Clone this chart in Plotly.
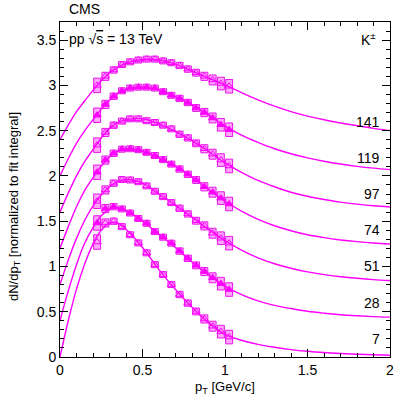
import plotly.graph_objects as go

# multiplicity classes, each shifted up by 0.4
classes = ["7", "28", "51", "74", "97", "119", "141"]
offsets = [0.0, 0.4, 0.8, 1.2, 1.6, 2.0, 2.4]
filled = [False, True, False, True, False, True, False]

# measured points (unshifted)
pt = [0.225, 0.275, 0.325, 0.375, 0.425, 0.475, 0.525, 0.575, 0.625,
      0.675, 0.725, 0.775, 0.825, 0.875, 0.925, 0.975, 1.025]
vals = {
    "7":   [1.27, 1.48, 1.50, 1.44, 1.35, 1.26, 1.15, 1.02, 0.91, 0.80, 0.69, 0.595, 0.503, 0.42, 0.34, 0.28, 0.22],
    "28":  [1.08, 1.24, 1.26, 1.235, 1.19, 1.13, 1.077, 0.985, 0.923, 0.857, 0.77, 0.69, 0.612, 0.544, 0.475, 0.41, 0.345],
    "51":  [0.92, 1.045, 1.12, 1.16, 1.155, 1.136, 1.09, 1.03, 0.971, 0.905, 0.843, 0.78, 0.705, 0.648, 0.567, 0.512, 0.457],
    "74":  [0.84, 0.975, 1.05, 1.095, 1.10, 1.09, 1.06, 1.025, 0.98, 0.93, 0.876, 0.818, 0.755, 0.68, 0.62, 0.555, 0.49],
    "97":  [0.74, 0.88, 0.96, 1.005, 1.03, 1.03, 1.01, 0.99, 0.96, 0.92, 0.86, 0.82, 0.76, 0.70, 0.64, 0.575, 0.51],
    "119": [0.67, 0.79, 0.88, 0.94, 0.97, 0.98, 0.98, 0.97, 0.93, 0.89, 0.856, 0.811, 0.75, 0.70, 0.64, 0.565, 0.51],
    "141": [0.60, 0.70, 0.77, 0.83, 0.86, 0.88, 0.89, 0.89, 0.87, 0.85, 0.82, 0.78, 0.74, 0.70, 0.66, 0.62, 0.59],
}
# systematic uncertainty (half height of boxes)
syst = [0.08, 0.045, 0.035, 0.033, 0.033, 0.033, 0.033, 0.033, 0.033,
        0.033, 0.035, 0.035, 0.038, 0.045, 0.055, 0.07, 0.075]

# fit curves (unshifted)
fit_pt = [0, 0.05, 0.1, 0.15, 0.2, 0.25, 0.3, 0.35, 0.4, 0.5, 0.6, 0.7, 0.8,
          0.9, 1.0, 1.1, 1.2, 1.3, 1.4, 1.5, 1.6, 1.7, 1.8, 1.9, 2.0]
fits = {
    "7":   [0, 0.40, 0.75, 1.03, 1.25, 1.40, 1.48, 1.48, 1.41, 1.21, 0.965, 0.745, 0.55, 0.38, 0.25, 0.185, 0.14, 0.107, 0.082, 0.063, 0.049, 0.039, 0.031, 0.025, 0.02],
    "28":  [0, 0.33, 0.62, 0.86, 1.03, 1.16, 1.23, 1.25, 1.22, 1.10, 0.955, 0.81, 0.65, 0.51, 0.38, 0.29, 0.22, 0.17, 0.135, 0.105, 0.084, 0.067, 0.055, 0.046, 0.04],
    "51":  [0, 0.27, 0.51, 0.71, 0.87, 0.99, 1.08, 1.14, 1.16, 1.12, 1.00, 0.875, 0.745, 0.61, 0.485, 0.38, 0.295, 0.23, 0.18, 0.14, 0.11, 0.087, 0.069, 0.055, 0.045],
    "74":  [0, 0.24, 0.46, 0.64, 0.78, 0.91, 1.01, 1.075, 1.10, 1.075, 1.00, 0.905, 0.787, 0.65, 0.52, 0.41, 0.32, 0.25, 0.195, 0.15, 0.118, 0.093, 0.074, 0.059, 0.048],
    "97":  [0, 0.21, 0.40, 0.56, 0.69, 0.82, 0.925, 0.99, 1.02, 1.03, 0.975, 0.89, 0.79, 0.67, 0.545, 0.44, 0.35, 0.28, 0.22, 0.175, 0.14, 0.11, 0.088, 0.07, 0.057],
    "119": [0, 0.19, 0.36, 0.50, 0.62, 0.735, 0.835, 0.91, 0.955, 0.98, 0.95, 0.875, 0.785, 0.675, 0.55, 0.45, 0.37, 0.30, 0.245, 0.20, 0.162, 0.131, 0.106, 0.086, 0.07],
    "141": [0, 0.16, 0.31, 0.43, 0.545, 0.65, 0.74, 0.80, 0.845, 0.885, 0.88, 0.835, 0.76, 0.68, 0.605, 0.52, 0.44, 0.37, 0.31, 0.26, 0.22, 0.185, 0.155, 0.125, 0.10],
}

MAG = "#ff00ff"
fig = go.Figure()

for name, off, full in zip(classes, offsets, filled):
    y = [v + off for v in vals[name]]
    fig.add_trace(go.Scatter(x=fit_pt, y=[v + off for v in fits[name]], mode="lines",
                             line=dict(color=MAG, width=1.4, shape="spline"),
                             hoverinfo="skip"))
    fig.add_trace(go.Bar(x=pt, y=[2 * e for e in syst], base=[a - e for a, e in zip(y, syst)],
                         width=0.042, marker=dict(color="rgba(255,0,255,0.35)",
                                                  line=dict(color="rgba(230,0,230,0.9)", width=1))))
    fig.add_trace(go.Scatter(x=pt, y=y, mode="markers",
                             marker=dict(symbol="triangle-up" if full else "triangle-up-open",
                                         size=7, color=MAG, line=dict(color=MAG, width=1))))
    fig.add_annotation(x=1.95, y=off + 0.2, text=name, showarrow=False, xanchor="right",
                       font=dict(size=14, color="black"))

fig.add_annotation(xref="paper", yref="paper", x=0.02, y=1.04, text="CMS", showarrow=False,
                   xanchor="left", yanchor="middle", font=dict(size=14))
fig.add_annotation(xref="paper", yref="paper", x=0.02, y=0.95, showarrow=False, xanchor="left",
                   yanchor="middle",
                   text="pp √<span style='text-decoration:overline'>s</span> = 13 TeV",
                   font=dict(size=14))
fig.add_annotation(xref="paper", yref="paper", x=0.965, y=0.95, text="K<sup>±</sup>",
                   showarrow=False, xanchor="right", yanchor="middle", font=dict(size=14))
# axis titles
fig.add_annotation(xref="paper", yref="paper", x=0.5, y=-0.092, text="p<sub>T</sub> [GeV/c]",
                   showarrow=False, xanchor="center", yanchor="middle", font=dict(size=13))
fig.add_annotation(xref="paper", yref="paper", x=-0.14, y=0.45, textangle=-90,
                   text="dN/dp<sub>T</sub> [normalized to fit integral]",
                   showarrow=False, xanchor="center", yanchor="middle", font=dict(size=13))

axis_common = dict(showline=True, linecolor="black", linewidth=1, mirror="ticks",
                   ticks="inside", ticklen=8, tickcolor="black", showgrid=False,
                   zeroline=False, automargin=False, tickfont=dict(size=14, color="black"))
fig.update_xaxes(range=[0, 2], dtick=0.5,
                 minor=dict(dtick=0.1, ticks="inside", ticklen=4, tickcolor="black"),
                 **axis_common)
fig.update_yaxes(range=[0, 3.7], dtick=0.5,
                 minor=dict(dtick=0.1, ticks="inside", ticklen=4, tickcolor="black"),
                 **axis_common)
fig.update_layout(width=407, height=407, margin=dict(l=60, r=17, t=22, b=50),
                  paper_bgcolor="white", plot_bgcolor="white", showlegend=False,
                  barmode="overlay", font=dict(family="Liberation Sans", size=14, color="black"))

# drop the page's default body margin so the figure fills the window
fig.write_html("out.html", config={"displayModeBar": False},
               post_script="document.body.style.margin = '0px';")
